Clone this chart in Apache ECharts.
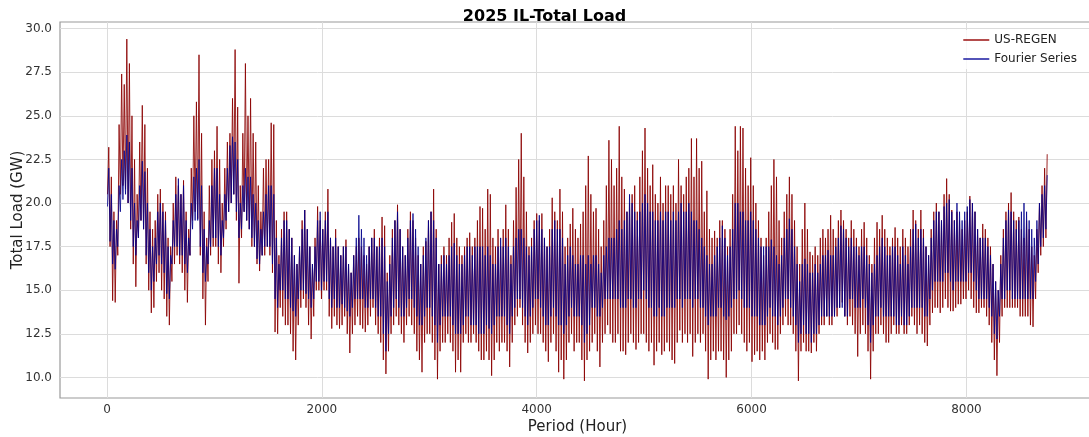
<!DOCTYPE html>
<html>
<head>
<meta charset="utf-8">
<script src="https://cdn.jsdelivr.net/npm/echarts@6/dist/echarts.min.js"></script>
<style>
  html, body { margin: 0; padding: 0; background: #fff; }
  #main { width: 1089px; height: 437px; }
</style>
</head>
<body>
<div id="main"></div>
<script>
// daily peak / trough, one value per day (365 days)
const regenHigh = [
  23.2,21.5,19.5,19.0,24.5,27.4,26.8,29.4,28.0,25.0,
  22.5,20.5,23.5,25.6,24.5,22.0,19.5,18.5,19.0,20.5,
  20.8,20.0,19.5,18.0,17.5,20.0,21.5,21.0,20.5,21.3,
  19.5,18.5,22.0,25.0,25.8,28.5,24.0,19.5,18.0,21.0,
  22.5,23.0,24.4,22.5,20.0,22.0,23.5,24.0,26.0,28.8,
  25.5,21.0,24.0,28.0,25.0,26.0,24.0,23.5,21.0,19.5,
  22.0,22.5,22.5,24.6,24.5,19.0,17.0,18.5,19.5,19.5,
  18.5,18.0,17.0,16.5,17.5,19.0,19.6,18.5,17.5,16.5,
  18.0,19.8,19.0,18.5,19.5,20.8,18.0,17.5,18.5,17.5,
  17.0,17.5,17.9,16.5,16.0,17.0,17.5,18.0,17.5,17.0,
  16.5,17.5,18.0,18.5,17.5,18.0,19.2,18.7,16.0,17.0,
  18.5,19.0,19.9,18.5,17.5,17.0,18.5,19.5,19.0,18.0,
  17.0,16.5,17.5,17.8,19.0,19.5,20.8,18.5,16.5,17.0,
  17.5,17.0,18.0,18.9,19.4,18.0,17.5,17.0,17.5,18.0,
  18.3,17.5,18.0,19.0,19.8,19.7,18.5,20.8,20.5,18.0,
  17.5,18.5,17.5,18.5,19.9,18.5,17.0,19.0,20.9,22.5,
  24.0,21.5,19.5,17.5,18.0,19.0,19.4,19.0,19.4,18.0,
  17.5,18.5,20.3,19.5,19.0,20.8,19.5,17.5,18.0,18.8,
  19.7,18.5,18.0,18.8,19.5,21.0,22.7,20.5,19.5,19.7,
  18.5,17.5,19.0,21.0,23.6,22.5,21.0,22.0,24.4,21.5,
  20.8,19.5,20.0,20.5,21.0,19.5,21.5,23.0,24.3,22.0,
  21.0,22.2,20.5,20.0,21.5,20.0,21.0,21.0,20.5,21.0,
  20.0,22.5,21.0,20.5,21.5,22.0,23.7,21.5,23.7,22.0,
  22.4,19.5,20.7,18.5,18.0,18.4,18.0,19.0,19.0,18.5,
  17.5,18.5,20.5,24.4,23.0,24.4,24.3,22.0,21.0,22.6,
  21.0,20.0,19.0,18.0,17.0,18.0,19.5,21.0,22.5,21.5,
  19.0,18.0,19.5,20.5,21.5,20.5,19.0,17.5,16.5,18.5,
  20.0,18.5,17.2,17.0,17.5,17.0,18.0,18.5,18.0,18.5,
  19.3,18.5,18.0,19.0,19.6,19.0,18.5,18.0,19.0,18.5,
  18.0,17.5,18.5,18.9,18.0,17.0,16.5,18.0,18.9,18.5,
  19.3,18.5,18.0,17.5,18.0,18.6,18.0,17.5,18.5,18.0,
  17.5,18.5,19.6,19.0,18.5,19.6,18.5,17.5,17.0,18.5,
  19.5,20.0,19.5,19.0,20.5,21.4,20.5,19.6,19.0,19.5,
  19.0,18.5,19.0,19.5,20.4,20.0,19.5,18.5,18.0,18.8,
  18.5,18.0,17.5,16.5,15.5,15.0,17.0,18.5,19.5,20.0,
  20.6,19.5,19.0,19.2,18.5,18.0,19.0,18.5,17.5,17.0,
  18.5,20.0,21.0,22.0,22.8
];
const regenLow = [
  20.5,17.5,14.4,14.3,17.0,20.5,21.0,20.8,20.0,18.5,
  16.5,15.2,18.0,19.0,18.5,16.5,15.0,13.7,14.0,15.5,
  16.0,15.0,14.5,13.5,13.0,15.5,16.5,17.0,16.5,16.0,
  15.0,14.3,17.0,19.0,19.5,19.1,17.0,14.5,13.0,15.5,
  17.0,17.5,17.5,16.5,16.0,17.5,18.5,19.5,20.0,20.5,
  19.0,15.4,18.0,19.5,19.0,18.5,17.5,17.5,16.5,16.1,
  17.0,17.0,17.5,17.0,16.0,12.6,12.5,14.0,13.5,13.0,
  13.0,12.5,11.5,11.0,13.0,14.0,14.5,14.0,13.0,12.2,
  13.5,15.0,15.0,14.5,15.0,15.0,13.5,12.8,13.5,13.0,
  12.8,13.0,13.5,12.5,11.4,12.5,13.0,13.5,13.0,12.8,
  12.6,13.0,13.5,14.0,13.0,12.5,12.0,11.0,10.2,11.5,
  12.5,13.0,13.5,13.0,12.5,12.0,13.0,13.5,13.0,12.5,
  11.5,11.0,10.3,12.0,12.5,12.5,12.0,11.0,9.9,11.5,
  12.0,12.0,12.5,12.0,11.5,10.3,11.0,10.3,12.0,12.5,
  12.0,12.0,12.5,12.0,11.5,11.0,11.0,11.5,11.0,10.1,
  11.0,12.0,11.5,12.0,12.0,11.5,10.6,12.0,13.0,13.5,
  14.0,13.0,12.0,11.4,12.0,12.5,13.0,12.5,12.5,12.0,
  11.5,10.9,12.0,12.5,11.5,10.3,11.0,9.9,11.0,12.0,
  12.5,11.5,12.0,12.0,11.0,9.8,11.0,11.5,12.0,12.5,
  11.5,10.6,12.0,12.5,13.0,12.5,12.0,12.0,12.5,11.5,
  11.5,11.3,12.0,12.5,12.0,11.6,12.0,12.5,12.5,12.0,
  11.5,12.0,10.7,11.5,12.0,11.3,11.5,12.0,11.5,11.0,
  10.8,12.0,12.7,12.0,12.5,12.0,12.5,11.2,12.0,12.5,
  12.0,12.5,11.5,9.9,11.0,11.5,11.0,11.5,11.5,11.0,
  10.0,11.0,11.5,12.5,12.5,13.0,12.5,12.0,11.5,12.0,
  10.9,11.3,11.5,11.0,11.5,11.0,12.0,12.5,12.0,11.6,
  11.6,12.5,13.0,13.5,13.0,13.0,12.5,11.5,9.8,11.5,
  12.0,11.5,11.5,11.4,12.0,11.5,12.5,13.0,13.0,13.5,
  13.0,13.0,13.5,13.5,14.0,14.3,13.5,13.0,13.5,13.0,
  12.5,11.2,12.5,13.0,12.5,11.5,9.9,11.5,12.5,12.5,
  13.0,12.5,12.0,12.0,12.5,13.0,12.5,12.5,13.0,12.5,
  12.5,13.0,13.5,13.0,12.5,13.0,12.5,12.0,11.8,13.0,
  13.7,14.0,14.0,13.7,14.0,14.5,14.0,13.8,13.8,14.0,
  14.2,14.2,14.5,14.5,15.0,14.5,14.0,13.7,13.7,14.0,
  14.0,13.5,13.0,12.0,11.0,10.1,12.0,13.5,14.0,14.0,
  14.0,14.0,14.0,14.0,13.5,13.5,13.5,13.5,13.0,12.9,
  14.5,16.0,17.0,17.5,18.0
];
const fourierHigh = [
  22.0,20.5,19.0,18.5,21.0,22.5,23.0,23.9,23.5,22.0,
  20.0,19.0,21.0,22.4,21.8,20.0,18.5,17.5,18.0,19.5,
  20.0,19.5,19.0,17.5,17.0,19.0,20.5,21.4,20.5,21.0,
  19.0,18.0,20.0,21.5,22.0,22.5,21.0,18.5,17.5,19.0,
  21.0,22.0,22.0,20.5,19.0,20.5,22.0,23.3,23.8,23.5,
  22.5,20.0,21.0,22.0,21.5,21.5,20.5,20.0,19.0,18.5,
  19.5,20.5,21.0,21.0,20.5,18.0,16.5,18.0,19.0,19.0,
  18.5,18.0,17.0,16.5,17.5,18.5,19.6,18.5,17.5,16.5,
  17.5,19.0,19.5,18.5,19.0,19.5,18.0,17.5,18.0,17.5,
  17.0,17.5,17.5,16.5,16.0,17.0,18.0,19.3,18.5,18.0,
  17.0,17.5,18.0,18.0,17.5,17.5,18.0,17.5,15.5,16.5,
  18.0,19.0,19.5,18.5,17.5,17.0,18.0,19.0,19.4,18.5,
  17.5,16.5,17.0,18.0,19.0,19.5,19.0,18.0,16.5,16.5,
  17.0,16.5,17.0,17.5,17.7,17.0,16.5,16.5,17.0,17.5,
  17.5,17.0,17.5,17.5,17.5,17.5,17.0,17.5,17.0,16.5,
  16.5,17.5,18.0,17.5,18.0,17.5,16.5,17.5,18.0,18.5,
  18.5,18.0,17.5,17.0,17.5,18.5,19.0,19.3,18.5,18.0,
  17.5,17.5,18.5,19.0,18.5,18.5,18.0,16.5,17.0,17.5,
  17.0,16.5,16.5,17.0,17.0,16.5,17.0,16.5,17.0,17.0,
  16.5,16.0,17.0,17.5,18.0,18.0,18.0,18.5,19.0,18.5,
  19.0,19.5,20.5,20.0,19.5,19.0,19.5,20.0,20.5,20.0,
  19.5,19.5,19.0,19.0,19.5,19.0,19.5,19.5,19.0,19.5,
  19.0,19.5,20.0,19.5,19.5,20.0,19.5,19.0,19.0,18.5,
  18.0,17.5,17.0,16.5,16.5,17.0,17.5,18.0,18.7,18.0,
  17.0,17.5,18.5,20.0,20.0,19.5,19.5,19.0,19.0,19.5,
  19.0,18.5,18.0,17.5,17.5,17.5,17.5,17.9,17.5,17.0,
  16.5,17.0,18.0,18.5,19.1,18.5,17.5,16.5,15.5,16.5,
  16.8,16.5,16.0,16.0,16.5,16.0,16.5,17.0,17.0,17.3,
  17.0,17.0,17.5,18.0,18.7,18.5,18.0,17.5,18.0,17.5,
  17.5,17.0,17.5,17.5,17.0,16.5,16.0,16.5,17.0,17.5,
  18.0,17.5,17.0,17.0,17.5,17.5,17.0,16.5,17.5,17.0,
  16.5,17.5,18.5,18.8,18.0,18.5,18.0,17.5,17.0,18.0,
  19.0,19.5,19.5,19.0,19.8,20.0,20.2,19.5,19.0,20.0,
  19.5,19.0,19.5,19.8,20.2,20.0,19.5,18.5,18.0,18.0,
  18.0,17.5,17.0,16.5,15.5,15.0,16.5,18.0,19.0,19.6,
  19.5,19.0,18.5,19.0,19.5,20.0,19.5,19.0,18.5,18.0,
  19.0,20.0,20.5,21.0,21.6
];
const fourierLow = [
  19.8,17.8,16.5,16.2,17.5,19.5,20.2,20.5,20.0,19.0,
  17.5,17.0,18.0,19.0,18.5,17.0,16.0,15.0,15.5,16.5,
  17.0,16.5,16.0,14.8,14.5,16.5,17.5,17.5,17.0,17.0,
  16.5,16.0,17.0,18.5,19.0,19.0,17.5,16.0,15.5,16.5,
  17.5,18.0,18.0,17.5,17.0,18.0,19.0,19.5,20.0,20.5,
  19.5,18.0,18.5,19.5,19.0,18.5,18.0,17.5,16.8,16.5,
  17.0,17.5,17.5,17.5,16.5,14.5,14.0,15.0,15.0,14.5,
  14.5,14.0,13.8,13.5,14.5,15.0,15.0,14.8,14.5,14.0,
  14.5,15.5,15.5,15.0,15.5,15.5,14.5,14.0,14.5,14.0,
  14.0,14.2,14.0,13.8,13.5,14.0,14.5,14.5,14.5,14.5,
  14.0,14.0,14.5,14.5,14.0,13.5,13.5,12.5,11.5,12.5,
  13.5,14.0,14.5,14.0,13.5,13.5,14.0,14.5,14.5,14.0,
  13.5,13.0,13.0,13.5,14.0,14.0,13.5,13.0,12.0,13.0,
  13.5,13.5,13.5,13.5,13.0,12.5,12.5,12.5,13.0,13.5,
  13.5,13.0,13.0,13.0,12.5,12.5,12.5,13.0,12.8,12.5,
  13.0,13.5,13.5,13.5,13.5,13.0,12.5,13.5,14.0,14.5,
  14.5,14.0,13.5,13.0,13.5,14.0,14.5,14.5,14.0,13.5,
  13.0,13.0,13.5,14.0,13.5,13.0,13.0,12.5,13.0,13.5,
  14.0,13.5,13.5,13.5,13.0,12.0,12.5,13.0,14.0,14.0,
  13.5,13.5,14.0,14.5,14.5,14.5,14.5,14.5,14.5,14.0,
  14.0,14.0,14.5,14.5,14.0,14.0,14.5,14.5,15.0,14.5,
  14.0,14.0,13.5,13.5,14.0,13.5,13.5,14.0,14.0,14.0,
  14.0,14.5,14.5,14.0,14.5,14.5,14.5,14.0,14.5,14.5,
  14.0,14.0,13.5,13.0,13.5,13.5,13.5,14.0,14.0,13.5,
  13.3,13.5,14.0,14.5,14.5,15.0,14.5,14.0,14.0,14.0,
  13.5,13.5,13.5,13.0,13.0,13.0,13.5,14.0,13.5,13.5,
  13.0,13.5,14.0,14.5,14.5,14.0,13.5,13.0,12.0,12.5,
  13.0,12.5,12.5,12.0,12.5,12.5,13.0,13.5,13.5,13.5,
  13.5,13.5,13.5,14.0,14.0,14.0,13.5,13.5,14.5,14.5,
  14.0,14.0,14.0,14.5,14.0,13.0,12.0,13.0,13.5,13.5,
  14.0,13.5,13.5,13.5,13.5,13.5,13.0,13.0,13.5,13.0,
  13.0,13.5,14.0,14.0,14.0,14.0,14.0,13.5,13.5,14.5,
  15.0,15.5,15.5,15.5,15.5,16.0,16.0,15.5,15.0,15.5,
  15.5,15.5,15.5,15.5,16.0,16.0,15.5,15.0,14.5,14.5,
  14.5,14.5,14.0,13.5,12.5,12.2,13.5,14.5,14.5,15.0,
  15.0,14.5,14.5,14.5,14.5,14.5,14.5,14.5,14.5,14.5,
  15.5,16.5,17.5,18.0,18.5
];
const seriesNames = ['US-REGEN', 'Fourier Series'];
const xTicks = [0, 2000, 4000, 6000, 8000];
const yTicks = [10, 12.5, 15, 17.5, 20, 22.5, 25, 27.5, 30];

// trough early in the day, peak in the afternoon
function toHourly(lows, highs) {
  const pts = [];
  for (let d = 0; d < lows.length; d++) {
    pts.push([d * 24 + 4, lows[d]]);
    pts.push([d * 24 + 16, highs[d]]);
  }
  return pts;
}

const chart = echarts.init(document.getElementById('main'));
const font = 'DejaVu Sans';

chart.setOption({
  animation: false,
  backgroundColor: '#fff',
  title: {
    text: '2025 IL-Total Load',
    left: 'center',
    top: 4,
    textStyle: { fontFamily: font, fontSize: 16, fontWeight: 'bold', color: '#000' }
  },
  legend: {
    data: seriesNames,
    orient: 'vertical',
    right: 6,
    top: 30,
    icon: 'rect',
    itemWidth: 26,
    itemHeight: 1.5,
    itemGap: 7,
    textStyle: { fontFamily: font, fontSize: 12, color: '#222' },
    backgroundColor: 'rgba(255,255,255,0.8)',
    padding: [4, 6, 4, 6]
  },
  grid: {
    left: 60, right: -6, top: 22, bottom: 39,
    outerBoundsMode: 'none',
    containLabel: false,
    show: true, borderColor: '#9a9a9a', borderWidth: 1.2
  },
  xAxis: {
    type: 'value',
    min: -438,
    max: 9197,
    name: 'Period (Hour)',
    nameLocation: 'middle',
    nameGap: 22,
    nameMoveOverlap: false,
    nameTextStyle: { fontFamily: font, fontSize: 15, color: '#222' },
    axisLine: { show: false },
    axisTick: { show: false, customValues: xTicks },
    axisLabel: {
      customValues: xTicks,
      fontFamily: font, fontSize: 12, color: '#333', margin: 6,
      formatter: v => String(v)
    },
    splitLine: { show: true, lineStyle: { color: '#dcdcdc', width: 1 } }
  },
  yAxis: {
    type: 'value',
    min: 8.82,
    max: 30.38,
    name: 'Total Load (GW)',
    nameLocation: 'middle',
    nameGap: 34,
    nameMoveOverlap: false,
    nameTextStyle: { fontFamily: font, fontSize: 15, color: '#222' },
    axisLine: { show: false },
    axisTick: { show: false, customValues: yTicks },
    axisLabel: {
      customValues: yTicks,
      fontFamily: font, fontSize: 12, color: '#333', margin: 8,
      formatter: v => v.toFixed(1)
    },
    splitLine: { show: true, lineStyle: { color: '#dcdcdc', width: 1 } }
  },
  series: [
    {
      name: seriesNames[0],
      type: 'line',
      data: toHourly(regenLow, regenHigh),
      showSymbol: false,
      symbol: 'none',
      color: '#9b1010',
      lineStyle: { color: '#8b0000', width: 1, opacity: 0.85 }
    },
    {
      name: seriesNames[1],
      type: 'line',
      data: toHourly(fourierLow, fourierHigh),
      showSymbol: false,
      symbol: 'none',
      color: '#1a1aa0',
      lineStyle: { color: '#00008b', width: 1, opacity: 0.8 }
    }
  ]
});
</script>
</body>
</html>
